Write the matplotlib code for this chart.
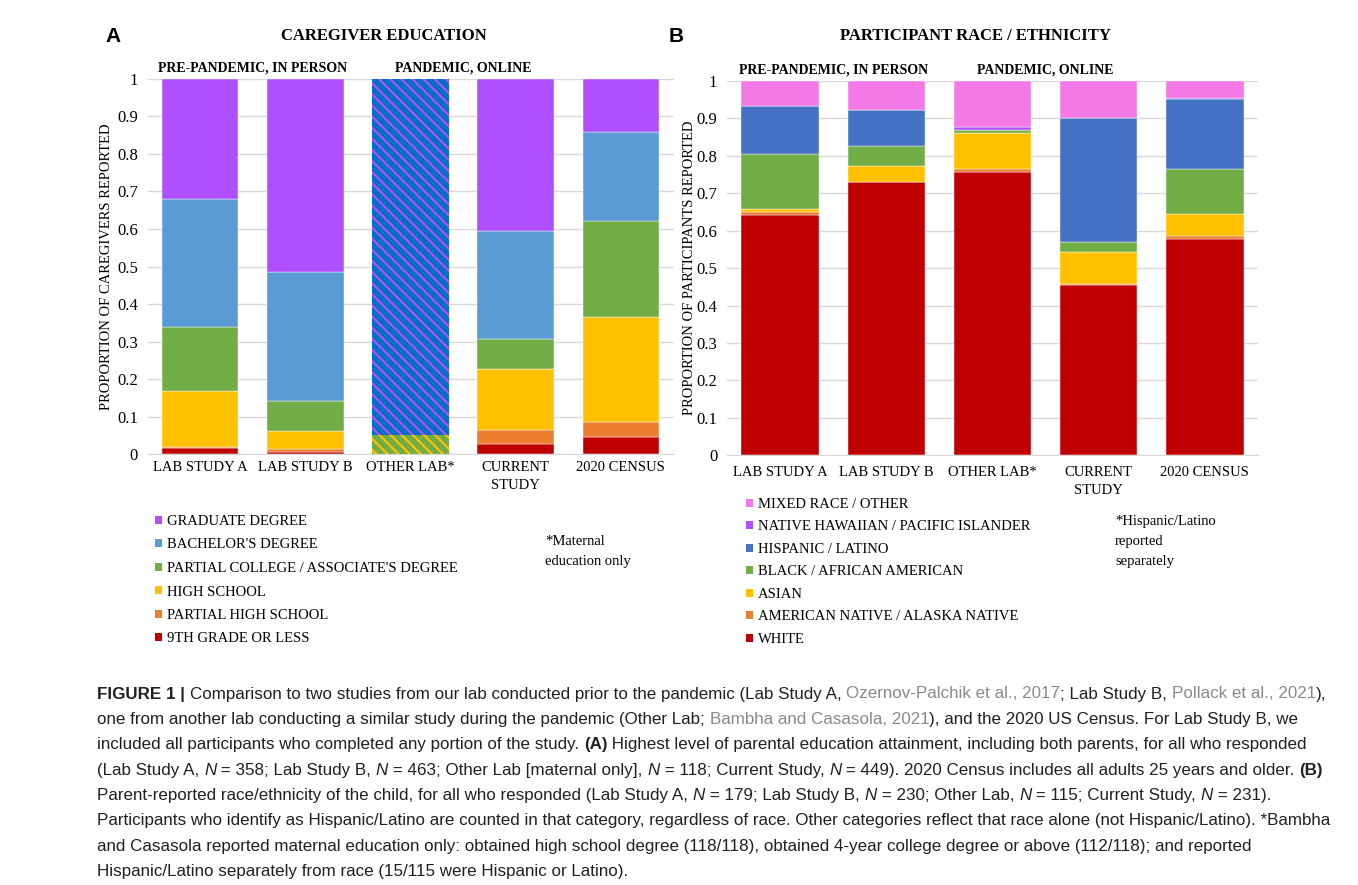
import matplotlib
matplotlib.use("Agg")
import numpy as np
import matplotlib.pyplot as plt
from matplotlib.patches import Patch

# === Data ===
studies = ["LAB STUDY A", "LAB STUDY B", "OTHER LAB*", "CURRENT\nSTUDY", "2020 CENSUS"]

# Panel A: caregiver education (proportions, Other Lab drawn separately)
edu_labels = ["9TH GRADE OR LESS", "PARTIAL HIGH SCHOOL", "HIGH SCHOOL",
              "PARTIAL COLLEGE / ASSOCIATE'S DEGREE", "BACHELOR'S DEGREE", "GRADUATE DEGREE"]
edu_9th      = [0.018, 0.005, 0.0, 0.028, 0.045]
edu_part_hs  = [0.002, 0.009, 0.0, 0.038, 0.042]
edu_hs       = [0.149, 0.048, 0.0, 0.161, 0.278]
edu_part_col = [0.170, 0.079, 0.0, 0.080, 0.257]
edu_bach     = [0.342, 0.345, 0.0, 0.289, 0.235]
edu_grad     = [0.319, 0.514, 0.0, 0.404, 0.143]
other_lab_no_degree = 0.051   # high school / partial college (maternal only)
other_lab_degree = 0.949      # 4-year degree or above

# Panel B: participant race / ethnicity (stack order, bottom to top)
race_labels = ["WHITE", "AMERICAN NATIVE / ALASKA NATIVE", "ASIAN", "BLACK / AFRICAN AMERICAN",
               "HISPANIC / LATINO", "NATIVE HAWAIIAN / PACIFIC ISLANDER", "MIXED RACE / OTHER"]
race_white    = [0.642, 0.730, 0.757, 0.455, 0.578]
race_amnative = [0.009, 0.000, 0.007, 0.003, 0.007]
race_asian    = [0.007, 0.044, 0.098, 0.086, 0.059]
race_black    = [0.147, 0.053, 0.008, 0.027, 0.121]
race_hispanic = [0.128, 0.096, 0.000, 0.329, 0.187]
race_nhpi     = [0.000, 0.000, 0.008, 0.000, 0.002]
race_mixed    = [0.067, 0.077, 0.122, 0.100, 0.046]

edu_colors = ["#C00000", "#ED7D31", "#FFC000", "#70AD47", "#5B9BD5", "#B04FFF"]
race_colors = ["#C00000", "#ED7D31", "#FFC000", "#70AD47", "#4472C4", "#B04FFF", "#F279E6"]

W, H = 1358, 885
SERIF = "Liberation Serif"
plt.rcParams["hatch.linewidth"] = 1.6

fig = plt.figure(figsize=(W / 100, H / 100), dpi=100)
fig.patch.set_facecolor("white")


def px(x, y):
    return x / W, 1 - y / H


def style_axes(ax, ylabel, xpad, label_x):
    ax.set_xlim(-0.5, 4.5)
    ax.set_ylim(0, 1)
    ax.set_yticks(np.arange(0, 1.01, 0.1))
    ax.set_yticklabels(["0"] + ["%.1f" % v for v in np.arange(0.1, 0.95, 0.1)] + ["1"],
                       fontsize=12, family=SERIF)
    ax.set_xticks(range(5))
    ax.set_xticklabels(studies, fontsize=10.5, family=SERIF, linespacing=1.5)
    ax.tick_params(length=0, axis="y", pad=7)
    ax.tick_params(length=0, axis="x", pad=xpad)
    ax.grid(axis="y", color="#D9D9D9", lw=1.0)
    ax.set_axisbelow(True)
    for s in ["top", "right", "left"]:
        ax.spines[s].set_visible(False)
    ax.spines["bottom"].set_color("#D9D9D9")
    ax.set_ylabel(ylabel, fontsize=10.5, family=SERIF)
    ax.yaxis.set_label_coords(label_x, 0.5)


def stack(ax, series, colors, width=0.73):
    x = np.arange(5)
    bottom = np.zeros(5)
    for vals, c in zip(series, colors):
        vals = np.array(vals)
        ax.bar(x, vals, width, bottom=bottom, color=c, edgecolor="white", linewidth=0.3)
        bottom += vals


# === Panel A ===
axA = fig.add_axes([147.5 / W, 1 - 454.3 / H, 526 / W, 375.5 / H])
style_axes(axA, "PROPORTION OF CAREGIVERS REPORTED", 5, -0.066)
stack(axA, [edu_9th, edu_part_hs, edu_hs, edu_part_col, edu_bach, edu_grad], edu_colors)
axA.bar(2, other_lab_no_degree, 0.73, color="#70AD47", edgecolor="#FFC000",
        hatch="\\\\\\", linewidth=0)
axA.bar(2, other_lab_degree, 0.73, bottom=other_lab_no_degree, color="#0070C0",
        edgecolor="#B04FFF", hatch="\\\\\\", linewidth=0)

# === Panel B ===
axB = fig.add_axes([727 / W, 1 - 455.3 / H, 531 / W, 374.3 / H])
style_axes(axB, "PROPORTION OF PARTICIPANTS REPORTED", 8, -0.058)
stack(axB, [race_white, race_amnative, race_asian, race_black, race_hispanic, race_nhpi, race_mixed],
      race_colors)

# titles and group labels
for ax, letter, lx, title, tx in [(axA, "A", 113, "CAREGIVER EDUCATION", 384),
                                  (axB, "B", 676, "PARTICIPANT RACE / ETHNICITY", 975)]:
    fig.text(*px(lx, 36), letter, fontsize=15, weight="bold", family="Liberation Sans",
             ha="center", va="center")
    fig.text(*px(tx, 36), title, fontsize=12, weight="bold", family=SERIF, ha="center", va="center")
    tr = ax.get_xaxis_transform()
    ax.text(0.5, 1.03, "PRE-PANDEMIC, IN PERSON", transform=tr, ha="center", va="center",
            fontsize=10, weight="bold", family=SERIF)
    ax.text(2.5, 1.03, "PANDEMIC, ONLINE", transform=tr, ha="center", va="center",
            fontsize=10, weight="bold", family=SERIF)

# legends
hA = [Patch(facecolor=c) for c in edu_colors][::-1]
fig.legend(hA, edu_labels[::-1], loc="upper left", bbox_to_anchor=px(155, 515),
           frameon=False, prop={"family": SERIF, "size": 10.5}, handlelength=0.5,
           handleheight=0.5, handletextpad=0.3, labelspacing=0.72, borderpad=0,
           borderaxespad=0)
hB = [Patch(facecolor=c) for c in race_colors][::-1]
fig.legend(hB, race_labels[::-1], loc="upper left", bbox_to_anchor=px(746, 498),
           frameon=False, prop={"family": SERIF, "size": 10.5}, handlelength=0.5,
           handleheight=0.5, handletextpad=0.3, labelspacing=0.65, borderpad=0,
           borderaxespad=0)
fig.text(*px(545, 535), "*Maternal\neducation only", fontsize=10.5, family=SERIF,
         va="top", ha="left", linespacing=1.7)
fig.text(*px(1115, 515), "*Hispanic/Latino\nreported\nseparately", fontsize=10.5, family=SERIF,
         va="top", ha="left", linespacing=1.7)

# === Caption ===
DARK, GRAY = "#231F20", "#8A8A8D"
caption = [
    [("FIGURE 1 | ", "b"), ("Comparison to two studies from our lab conducted prior to the pandemic (Lab Study A, ", ""),
     ("Ozernov-Palchik et al., 2017", "g"), ("; Lab Study B, ", ""), ("Pollack et al., 2021", "g"), ("),", "")],
    [("one from another lab conducting a similar study during the pandemic (Other Lab; ", ""),
     ("Bambha and Casasola, 2021", "g"), ("), and the 2020 US Census. For Lab Study B, we", "")],
    [("included all participants who completed any portion of the study. ", ""), ("(A)", "b"),
     (" Highest level of parental education attainment, including both parents, for all who responded", "")],
    [("(Lab Study A, ", ""), ("N", "i"), (" = 358; Lab Study B, ", ""), ("N", "i"),
     (" = 463; Other Lab [maternal only], ", ""), ("N", "i"), (" = 118; Current Study, ", ""), ("N", "i"),
     (" = 449). 2020 Census includes all adults 25 years and older. ", ""), ("(B)", "b")],
    [("Parent-reported race/ethnicity of the child, for all who responded (Lab Study A, ", ""), ("N", "i"),
     (" = 179; Lab Study B, ", ""), ("N", "i"), (" = 230; Other Lab, ", ""), ("N", "i"),
     (" = 115; Current Study, ", ""), ("N", "i"), (" = 231).", "")],
    [("Participants who identify as Hispanic/Latino are counted in that category, regardless of race. "
      "Other categories reflect that race alone (not Hispanic/Latino). *Bambha", "")],
    [("and Casasola reported maternal education only: obtained high school degree (118/118), "
      "obtained 4-year college degree or above (112/118); and reported", "")],
    [("Hispanic/Latino separately from race (15/115 were Hispanic or Latino).", "")],
]
CAP_FONT = ["Liberation Sans"]
renderer = fig.canvas.get_renderer()


def seg_kw(kind, size):
    kw = dict(fontsize=size, family=CAP_FONT, color=DARK)
    if kind == "b":
        kw["weight"] = "bold"
    elif kind == "i":
        kw["style"] = "italic"
    elif kind == "g":
        kw["color"] = GRAY
    return kw


def seg_width(s, kw):
    t = fig.text(0, 0, "x" + s + "x", **kw)
    t2 = fig.text(0, 0, "xx", **kw)
    w = t.get_window_extent(renderer).width - t2.get_window_extent(renderer).width
    t.remove()
    t2.remove()
    return w


base = 10
w1 = sum(seg_width(s, seg_kw(k, base)) for s, k in caption[0])
cap_size = base * (1330 - 97) / w1

for i, line in enumerate(caption):
    x = 97
    yb = 698.5 + 25.4 * i
    for s, k in line:
        kw = seg_kw(k, cap_size)
        fig.text(x / W, 1 - yb / H, s, ha="left", va="baseline", **kw)
        x += seg_width(s, kw)

fig.savefig("out.png", dpi=100, facecolor="white")
